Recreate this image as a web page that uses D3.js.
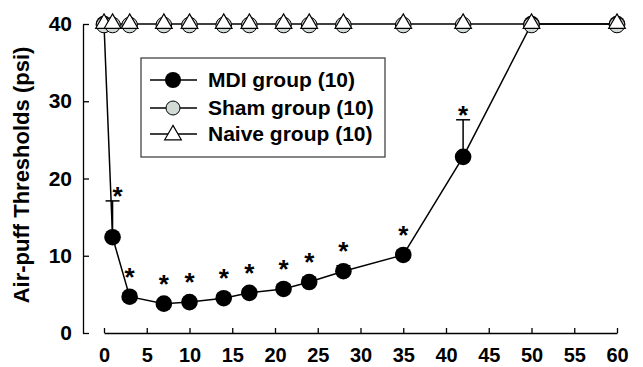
<!DOCTYPE html>
<html>
<head>
<meta charset="utf-8">
<script src="https://cdn.jsdelivr.net/npm/d3@7"></script>
<style>
  html, body { margin: 0; padding: 0; background: #fff; }
  svg { display: block; font-family: "Liberation Sans", Arial, sans-serif; font-weight: bold; }
</style>
</head>
<body>
<div id="chart"></div>
<script>
// 时间点 (天) 与各组阈值
const days = [0, 1, 3, 7, 10, 14, 17, 21, 24, 28, 35, 42, 50, 60];
const mdiValues = [40, 12.4, 4.7, 3.8, 4.0, 4.5, 5.2, 5.7, 6.6, 8.0, 10.1, 22.8, 40, 40];
const mdiErrors = [0, 4.7, 0.5, 0.4, 0.4, 0.5, 0.5, 0.6, 0.6, 0.7, 0.6, 4.8, 0, 0];
const mdiSignif = [false, true, true, true, true, true, true, true, true, true, true, true, false, false];
const shamValues = [40, 40, 40, 40, 40, 40, 40, 40, 40, 40, 40, 40, 40, 40];
const naiveValues = [40, 40, 40, 40, 40, 40, 40, 40, 40, 40, 40, 40, 40, 40];
const xTicks = [0, 5, 10, 15, 20, 25, 30, 35, 40, 45, 50, 55, 60];
const yTicks = [0, 10, 20, 30, 40];
const legendLabels = ["MDI group (10)", "Sham group (10)", "Naive group (10)"];
const yLabel = "Air-puff Thresholds (psi)";

const W = 643, H = 367;
const svg = d3.select("#chart").append("svg").attr("width", W).attr("height", H);

const x = d3.scaleLinear().domain([0, 60]).range([104, 617]);
const y = d3.scaleLinear().domain([0, 40]).range([333, 24]);
const yAxisX = 83;

// 坐标轴: 刻度朝内
const gy = svg.append("g").attr("transform", `translate(${yAxisX},0)`)
  .call(d3.axisLeft(y).tickValues(yTicks).tickSize(-6).tickSizeOuter(0).tickPadding(11));
const gx = svg.append("g").attr("transform", `translate(0,${y(0)})`)
  .call(d3.axisBottom(x).tickValues(xTicks).tickSize(-5).tickSizeOuter(0).tickPadding(15));
[gx, gy].forEach(g => {
  g.selectAll("path, line").attr("stroke", "#000").attr("stroke-width", 1.3);
  g.selectAll("text").attr("fill", "#000").attr("font-size", 21)
    .attr("font-family", "'Liberation Sans', Arial, sans-serif").attr("font-weight", "bold");
});
gx.selectAll("text").attr("font-size", 20);

svg.append("text")
  .attr("transform", `translate(29,175) rotate(-90)`)
  .attr("text-anchor", "middle").attr("font-size", 22).attr("fill", "#000")
  .text(yLabel);

const line = d3.line().x(d => x(d[0])).y(d => y(d[1]));
const plot = svg.append("g");

// MDI 组
const mdi = days.map((d, i) => [d, mdiValues[i], mdiErrors[i], mdiSignif[i]]);
plot.append("path").datum(mdi).attr("d", line)
  .attr("fill", "none").attr("stroke", "#000").attr("stroke-width", 1.5);
const eb = plot.append("g").selectAll("g").data(mdi.filter(d => d[2] > 0)).join("g");
eb.append("line")
  .attr("x1", d => x(d[0])).attr("x2", d => x(d[0]))
  .attr("y1", d => y(d[1])).attr("y2", d => y(d[1] + d[2]))
  .attr("stroke", "#000").attr("stroke-width", 1.5);
eb.append("line")
  .attr("x1", d => x(d[0]) - 7).attr("x2", d => x(d[0]) + 7)
  .attr("y1", d => y(d[1] + d[2])).attr("y2", d => y(d[1] + d[2]))
  .attr("stroke", "#000").attr("stroke-width", 1.5);
plot.append("g").selectAll("circle").data(mdi).join("circle")
  .attr("cx", d => x(d[0])).attr("cy", d => y(d[1])).attr("r", 8.3)
  .attr("fill", "#000");
// 显著性星号: 放在误差线或点的上方
plot.append("g").selectAll("text").data(mdi.filter(d => d[3])).join("text")
  .attr("x", d => x(d[0]) + (d[0] === 1 ? 5 : 0))
  .attr("y", d => Math.min(y(d[1] + d[2]) + 4, y(d[1]) - 11))
  .attr("text-anchor", "middle").attr("font-size", 26).attr("fill", "#000")
  .text("*");

// Sham 组
const sham = days.map((d, i) => [d, shamValues[i]]);
plot.append("path").datum(sham).attr("d", line)
  .attr("fill", "none").attr("stroke", "#000").attr("stroke-width", 1.5);
plot.append("g").selectAll("circle").data(sham).join("circle")
  .attr("cx", d => x(d[0])).attr("cy", d => y(d[1]) + 1).attr("r", 7.8)
  .attr("fill", "#d2dad6").attr("stroke", "#000").attr("stroke-width", 1);

// Naive 组
const naive = days.map((d, i) => [d, naiveValues[i]]);
const tri = d3.symbol().type(d3.symbolTriangle).size(120);
plot.append("g").selectAll("path").data(naive).join("path")
  .attr("d", tri)
  .attr("transform", d => `translate(${x(d[0])},${y(d[1]) - 0.5})`)
  .attr("fill", "#fff").attr("stroke", "#000").attr("stroke-width", 1.2);

// 图例
const lg = svg.append("g");
lg.append("rect").attr("x", 141).attr("y", 58).attr("width", 244).attr("height", 99)
  .attr("fill", "#fff").attr("stroke", "#444").attr("stroke-width", 1.3);
const rowsY = [80, 108, 134];
const rows = lg.selectAll("g.row").data(legendLabels).join("g").attr("class", "row")
  .attr("transform", (d, i) => `translate(0,${rowsY[i]})`);
rows.append("line").attr("x1", 150).attr("x2", 197).attr("stroke", "#000").attr("stroke-width", 1.5);
rows.append("text").attr("x", 208).attr("y", 7).attr("font-size", 21).attr("fill", "#000").text(d => d);
rows.filter((d, i) => i === 0).append("circle").attr("cx", 173).attr("r", 8).attr("fill", "#000");
rows.filter((d, i) => i === 1).append("circle").attr("cx", 173).attr("r", 7)
  .attr("fill", "#d2dad6").attr("stroke", "#000").attr("stroke-width", 1);
rows.filter((d, i) => i === 2).append("path").attr("d", tri)
  .attr("transform", "translate(173,1)")
  .attr("fill", "#fff").attr("stroke", "#000").attr("stroke-width", 1.2);
</script>
</body>
</html>
